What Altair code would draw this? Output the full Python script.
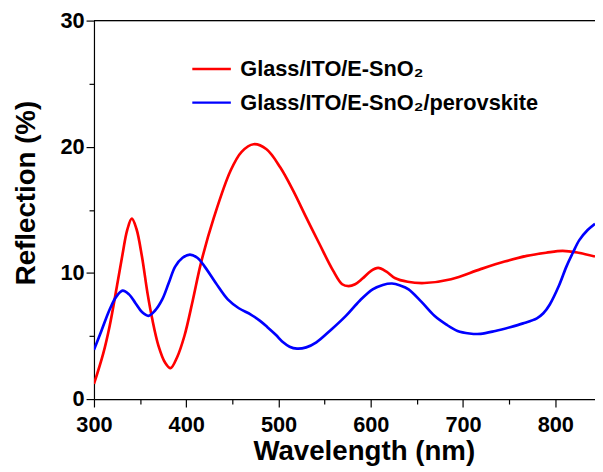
import altair as alt
import pandas as pd

red_name = "Glass/ITO/E-SnO\u2082"
blue_name = "Glass/ITO/E-SnO\u2082/perovskite"

red_x = [300, 310, 317, 325, 331, 336, 341, 346, 352, 358, 363, 370, 377, 383, 390, 398,
         407, 416, 430, 448, 460, 473, 487, 502, 516, 530, 544, 559, 569, 576,
         583, 591, 600, 608, 617, 626, 640, 658, 687, 719, 745, 769, 790, 808, 825, 843]
red_y = [1.2, 3.6, 5.8, 9.0, 11.5, 13.4, 14.3, 13.5, 11.3, 8.4, 6.4, 4.2, 2.9, 2.45, 3.3, 5.0,
         7.8, 10.8, 14.4, 18.1, 19.6, 20.2, 19.8, 18.35, 16.5, 14.4, 12.35, 10.2, 9.1, 8.95,
         9.1, 9.55, 10.15, 10.4, 10.1, 9.6, 9.3, 9.2, 9.5, 10.3, 10.9, 11.35, 11.6, 11.75, 11.6, 11.3]

blue_x = [300, 308, 317, 324, 331, 338, 345, 352, 359, 366, 374, 381, 388, 396, 404, 412,
          420, 432, 445, 457, 470, 480, 488, 497, 505, 512, 520, 530, 541, 557, 573, 588,
          602, 613, 623, 632, 641, 655, 669, 682, 694, 707, 719, 735, 751, 765, 780, 787,
          794, 804, 812, 819, 826, 835, 843]
blue_y = [3.9, 5.4, 7.1, 8.1, 8.6, 8.3, 7.6, 6.9, 6.6, 7.0, 7.9, 9.2, 10.5, 11.2, 11.45, 11.2,
          10.5, 9.2, 7.9, 7.2, 6.7, 6.2, 5.7, 5.1, 4.5, 4.15, 4.0, 4.1, 4.5, 5.5, 6.6, 7.8,
          8.7, 9.05, 9.16, 9.0, 8.7, 7.7, 6.6, 5.9, 5.4, 5.2, 5.17, 5.4, 5.7, 6.0, 6.4, 6.8,
          7.5, 9.0, 10.5, 11.6, 12.6, 13.4, 13.9]

x_ticks = [300, 350, 400, 450, 500, 550, 600, 650, 700, 750, 800]
y_ticks = [0, 5, 10, 15, 20, 25, 30]

df = pd.concat([
    pd.DataFrame({"wl": red_x, "r": red_y, "series": red_name}),
    pd.DataFrame({"wl": blue_x, "r": blue_y, "series": blue_name}),
], ignore_index=True)

FONT = "Liberation Sans"

x_axis = alt.Axis(
    values=x_ticks,
    labelExpr="datum.value % 100 === 0 ? datum.label : ''",
    tickSize={"condition": {"test": "datum.value % 100 !== 0", "value": 5}, "value": 8},
    grid=False, domainColor="black", tickColor="black", domainWidth=1.2, tickWidth=1.2,
    labelFont=FONT, labelFontSize=22, labelFontWeight="bold", labelColor="black",
    labelPadding=8, labelFlush=False, labelOverlap=False,
    title="Wavelength (nm)", titleFont=FONT, titleFontSize=28,
    titleFontWeight="bold", titleColor="black", titleX=273, titleY=61,
    titleAlign="center", titleBaseline="alphabetic",
)
y_axis = alt.Axis(
    values=y_ticks,
    labelExpr="datum.value % 10 === 0 ? datum.label : ''",
    tickSize={"condition": {"test": "datum.value % 10 !== 0", "value": 5}, "value": 8},
    grid=False, domainColor="black", tickColor="black", domainWidth=1.2, tickWidth=1.2,
    labelFont=FONT, labelFontSize=22, labelFontWeight="bold", labelColor="black",
    labelPadding=2, labelFlush=False, labelOverlap=False,
    title="Reflection (%)", titleFont=FONT, titleFontSize=28,
    titleFontWeight="bold", titleColor="black", titleY=174, titleAlign="center",
    titlePadding=20,
)

lines = alt.Chart(df).mark_line(strokeWidth=2.7, interpolate="catmull-rom", clip=True).encode(
    x=alt.X("wl:Q", scale=alt.Scale(domain=[300, 843], nice=False, zero=False), axis=x_axis),
    y=alt.Y("r:Q", scale=alt.Scale(domain=[0, 30], nice=False), axis=y_axis),
    color=alt.Color(
        "series:N",
        scale=alt.Scale(domain=[red_name, blue_name], range=["#FF0000", "#0000FF"]),
        legend=alt.Legend(
            orient="none", legendX=98, legendY=32, title=None,
            symbolType="stroke", symbolSize=1521, symbolStrokeWidth=2.5,
            labelFont=FONT, labelFontSize=22, labelFontWeight="bold", labelColor="black",
            labelOffset=8, clipHeight=34, rowPadding=0, padding=0, labelLimit=500,
        ),
    ),
    detail="series:N",
)

top = alt.Chart(pd.DataFrame({"v": [30]})).mark_rule(color="black", strokeWidth=1.2).encode(
    y=alt.Y("v:Q")
)

chart = alt.layer(lines, top).properties(
    width=507, height=383,
    autosize=alt.AutoSizeParams(type="none"),
    padding={"left": 87, "top": 10, "right": 0, "bottom": 68},
).configure_view(stroke=None).configure(background="white")

chart.save("out.html", embed_options={"renderer": "svg", "actions": False})
